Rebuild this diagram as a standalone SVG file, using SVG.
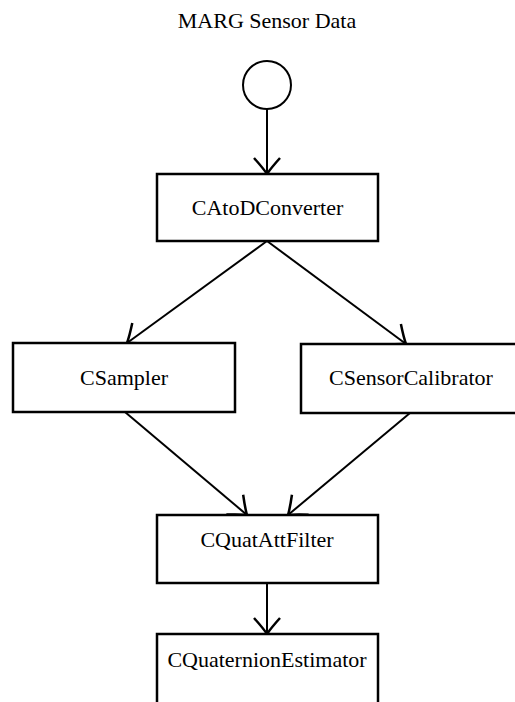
<svg xmlns="http://www.w3.org/2000/svg" width="515" height="702" viewBox="0 0 515 702">
<style>
.box{fill:#fff;stroke:#000;stroke-width:2.5}
.lbl{font-family:"Liberation Serif","Times New Roman",serif;font-size:22px;fill:#000;text-anchor:middle}
.edge{fill:none;stroke:#000;stroke-width:2}
</style>
<defs>
<marker id="barb" markerUnits="userSpaceOnUse" viewBox="-18 -15 20 30" markerWidth="20" markerHeight="30" refX="0" refY="0" orient="auto" overflow="visible">
<path d="M-16,-13 Q-6,-4 0,0 Q-6,4 -16,13" fill="none" stroke="#000" stroke-width="2.5"/>
</marker>
</defs>
<rect width="515" height="702" fill="#fff"/>
<text class="lbl" x="267" y="28">MARG Sensor Data</text>
<g id="edges">
<line class="edge" x1="267" y1="109" x2="267" y2="174" marker-end="url(#barb)"/>
<line class="edge" x1="267" y1="241" x2="127" y2="343" marker-end="url(#barb)"/>
<line class="edge" x1="267" y1="241" x2="406" y2="344" marker-end="url(#barb)"/>
<line class="edge" x1="125" y1="412" x2="247" y2="515" marker-end="url(#barb)"/>
<line class="edge" x1="410" y1="413" x2="288" y2="515" marker-end="url(#barb)"/>
<line class="edge" x1="267" y1="583" x2="267" y2="634" marker-end="url(#barb)"/>
</g>
<g id="start">
<circle cx="267" cy="85" r="24" fill="#fff" stroke="#000" stroke-width="2"/>
</g>
<g id="CAtoDConverter">
<rect class="box" x="157" y="174" width="221" height="67"/>
<text class="lbl" x="267.5" y="215">CAtoDConverter</text>
</g>
<g id="CSampler">
<rect class="box" x="13" y="343" width="222" height="69"/>
<text class="lbl" x="124" y="385">CSampler</text>
</g>
<g id="CSensorCalibrator">
<rect class="box" x="301" y="344" width="220" height="69"/>
<text class="lbl" x="411" y="385">CSensorCalibrator</text>
</g>
<g id="CQuatAttFilter">
<rect class="box" x="157" y="515" width="221" height="68"/>
<text class="lbl" x="267" y="547">CQuatAttFilter</text>
</g>
<g id="CQuaternionEstimator">
<rect class="box" x="157" y="634" width="221" height="80"/>
<text class="lbl" x="267" y="667">CQuaternionEstimator</text>
</g>
</svg>
